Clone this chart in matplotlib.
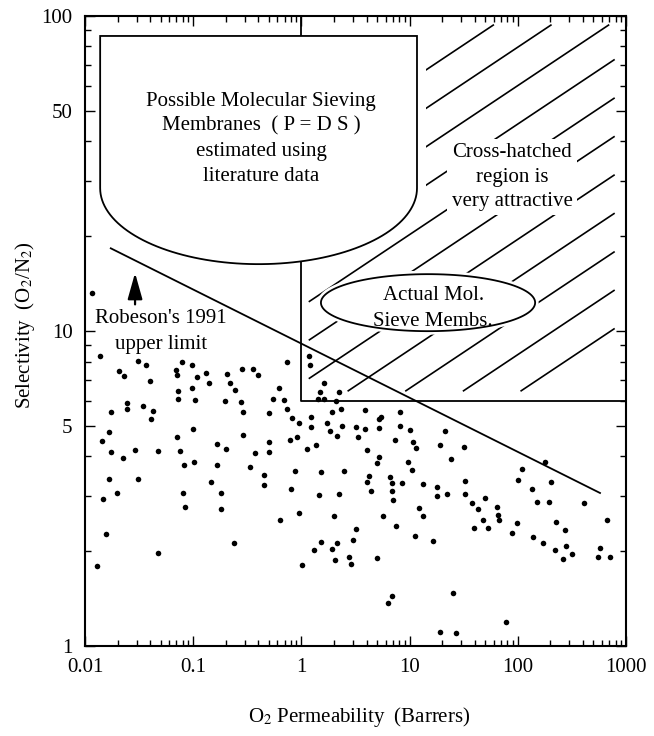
import numpy as np
import matplotlib
matplotlib.use("Agg")
import matplotlib.pyplot as plt
from matplotlib.patches import Polygon

plt.rcParams['font.family'] = ['Liberation Serif', 'DejaVu Serif']
plt.rcParams['mathtext.fontset'] = 'stix'

# O2 permeability (Barrers) of the literature polymers
perm = [0.0115, 0.0138, 0.0206, 0.0229, 0.0309, 0.0364, 0.0399, 0.0173, 0.0243, 0.0243,
        0.0346, 0.0428, 0.0405, 0.0143, 0.0166, 0.0174, 0.0224, 0.0288, 0.0476, 0.0168,
        0.0311, 0.0196, 0.0147, 0.0155, 0.0128, 0.0476, 0.0689, 0.0704, 0.0793, 0.0975,
        0.108, 0.132, 0.140, 0.205, 0.220, 0.242, 0.284, 0.359, 0.400, 0.0728,
        0.0728, 0.0975, 0.104, 0.198, 0.278, 0.287, 0.100, 0.0713, 0.0755, 0.0827,
        0.102, 0.165, 0.200, 0.287, 0.370, 0.335, 0.166, 0.146, 0.0805, 0.181,
        0.0845, 0.181, 0.238, 0.454, 0.454, 0.731, 1.176, 1.19, 1.63, 1.48,
        2.21, 1.43, 1.63, 2.10, 0.625, 0.543, 0.695, 0.499, 0.741, 0.824,
        0.956, 1.23, 1.23, 1.91, 2.32, 1.72, 2.36, 1.85, 2.15, 3.20,
        3.89, 3.87, 3.34, 5.21, 5.41, 5.25, 8.20, 8.20, 10.0, 7.38,
        10.7, 11.5, 19.2, 0.502, 0.502, 0.785, 0.905, 1.12, 1.36, 4.06,
        5.21, 5.03, 9.60, 10.5, 0.873, 1.52, 2.49, 4.19, 4.01, 4.40,
        6.55, 6.92, 8.51, 6.92, 6.98, 13.3, 17.9, 17.9, 0.807, 1.46,
        2.21, 12.1, 13.3, 0.630, 0.950, 2.00, 5.68, 7.44, 3.22, 3.02,
        1.51, 2.15, 1.30, 1.92, 2.03, 2.75, 2.89, 4.97, 1.01, 11.1,
        16.6, 6.88, 6.31, 19.1, 21.2, 24.0, 31.8, 22.0, 32.5, 32.5,
        38.0, 42.6, 49.8, 47.4, 39.1, 53.4, 63.8, 66.0, 67.5, 109,
        99.8, 97.7, 88.4, 180, 135, 151, 194, 203, 227, 271,
        138, 170, 219, 260, 281, 317, 412, 663, 575, 547,
        716, 25.3, 26.7, 77.3]

# O2/N2 selectivity of the same polymers
sel = [13.2, 8.33, 7.48, 7.20, 8.05, 7.78, 6.94, 5.54, 5.92, 5.64,
       5.79, 5.58, 5.26, 4.48, 4.79, 4.12, 3.96, 4.19, 4.15, 3.40,
       3.38, 3.05, 2.92, 2.26, 1.80, 1.98, 7.52, 7.25, 7.99, 7.82,
       7.13, 7.36, 6.85, 7.29, 6.82, 6.51, 7.57, 7.56, 7.25, 6.45,
       6.07, 6.58, 6.03, 6.00, 5.95, 5.52, 4.88, 4.60, 4.17, 3.76,
       3.83, 4.37, 4.21, 4.69, 4.09, 3.69, 3.75, 3.31, 3.05, 3.06,
       2.76, 2.72, 2.12, 3.49, 3.24, 7.96, 8.35, 7.78, 6.85, 6.42,
       6.42, 6.07, 6.08, 6.00, 6.58, 6.08, 6.03, 5.50, 5.64, 5.31,
       5.12, 5.32, 4.97, 5.52, 5.64, 5.10, 4.99, 4.81, 4.64, 4.95,
       5.63, 4.89, 4.62, 5.24, 5.33, 4.91, 5.52, 4.98, 4.86, 4.52,
       4.44, 4.24, 4.35, 4.43, 4.12, 4.51, 4.60, 4.21, 4.35, 4.18,
       3.99, 3.80, 3.83, 3.62, 3.59, 3.58, 3.59, 3.46, 3.32, 3.10,
       3.44, 3.29, 3.30, 3.10, 2.90, 3.26, 3.20, 2.99, 3.16, 3.01,
       3.03, 2.74, 2.59, 2.51, 2.65, 2.59, 2.59, 2.40, 2.35, 2.17,
       2.14, 2.13, 2.01, 2.03, 1.88, 1.91, 1.82, 1.90, 1.81, 2.23,
       2.15, 1.44, 1.37, 1.11, 4.83, 3.92, 4.28, 3.04, 3.35, 3.03,
       2.85, 2.72, 2.95, 2.51, 2.37, 2.37, 2.76, 2.61, 2.51, 3.65,
       3.37, 2.45, 2.29, 3.83, 3.14, 2.87, 2.87, 3.32, 2.47, 2.33,
       2.22, 2.13, 2.01, 1.89, 2.08, 1.96, 2.85, 2.51, 2.04, 1.92,
       1.92, 1.47, 1.10, 1.19]

# Robeson's 1991 upper limit (end points)
robeson_perm = [0.0173, 575]
robeson_sel = [18.3, 3.06]

# "attractive" region (hatched box)
hatch_perm = [1, 1000]
hatch_sel = [6, 100]

# possible molecular sieving membranes (U-shaped region)
sieve_perm = [0.0138, 11.7]
sieve_sel = [86.4, 28.4, 16.3]   # top, end of straight sides, bottom of curve

# actual molecular sieve membranes (ellipse)
actual_perm, actual_sel = 14.8, 12.3
actual_span = [1.98, 0.181]      # width, height in decades

xticks = [0.01, 0.1, 1, 10, 100, 1000]
xticklabels = ['0.01', '0.1', '1', '10', '100', '1000']
yticks = [1, 5, 10, 50, 100]
yticklabels = ['1', '5', '10', '50', '100']

fig = plt.figure(figsize=(6.54, 7.36), dpi=100)
ax = fig.add_axes([0.130, 0.1223, 0.8272, 0.856])
ax.set_xscale('log')
ax.set_yscale('log')
ax.set_xlim(0.01, 1000)
ax.set_ylim(1, 100)

# hatch lines of the attractive region, straight in log-log space
slope = 0.229
lx0, lx1 = np.log10(hatch_perm[0]) + 0.074, np.log10(hatch_perm[1]) - 0.111
ly0, ly1 = np.log10(hatch_sel[0]) + 0.032, np.log10(hatch_sel[1]) - 0.029
for b in np.linspace(2.252, 1.032, 11):
    a0 = max(lx0, 3 + (ly0 - b) / slope)
    a1 = min(lx1, 3 + (ly1 - b) / slope)
    if a1 <= a0:
        continue
    lxs = np.array([a0, a1])
    ax.plot(10 ** lxs, 10 ** (b + slope * (lxs - 3)), color='black', lw=1.2, zorder=1)

ax.plot([hatch_perm[0], hatch_perm[0], hatch_perm[1]],
        [hatch_sel[1], hatch_sel[0], hatch_sel[0]], color='black', lw=1.3, zorder=2)

# U shaped region
lxl, lxr = np.log10(sieve_perm)
lyt, lys, lyb = np.log10(sieve_sel)
t = np.linspace(np.pi, 2 * np.pi, 80)
arc_x = (lxl + lxr) / 2 + (lxr - lxl) / 2 * np.cos(t)
arc_y = lys + (lys - lyb) * np.sin(t)
ux = np.concatenate([[lxl], arc_x, [lxr]])
uy = np.concatenate([[lyt], arc_y, [lyt]])
u_pts = 10 ** np.column_stack([ux, uy])
ax.add_patch(Polygon(u_pts, closed=True, fc='white', ec='white', lw=13, zorder=1.5))
ax.add_patch(Polygon(u_pts, closed=True, fc='white', ec='black', lw=1.3, zorder=2.2))

# ellipse
t = np.linspace(0, 2 * np.pi, 120)
ex = np.log10(actual_perm) + actual_span[0] / 2 * np.cos(t)
ey = np.log10(actual_sel) + actual_span[1] / 2 * np.sin(t)
e_pts = 10 ** np.column_stack([ex, ey])
ax.add_patch(Polygon(e_pts, closed=True, fc='white', ec='white', lw=5, zorder=1.5))
ax.add_patch(Polygon(e_pts, closed=True, fc='white', ec='black', lw=1.3, zorder=2.2))

ax.plot(robeson_perm, robeson_sel, color='black', lw=1.3, zorder=2)
ax.scatter(perm, sel, s=16, color='black', zorder=2.3, linewidths=0)

fs = 15
ax.text(0.423, 40.8, 'Possible Molecular Sieving\nMembranes  ( P = D S )\nestimated using\nliterature data',
        ha='center', va='center', fontsize=fs, linespacing=1.42, zorder=3)
ax.text(88.4, 30.8, 'Cross-hatched\nregion is\nvery attractive',
        ha='center', va='center', fontsize=fs, linespacing=1.4, zorder=3,
        bbox=dict(boxstyle='square,pad=0.2', fc='white', ec='none'))
ax.text(16.5, 11.8, 'Actual Mol.\nSieve Membs.', ha='center', va='center',
        fontsize=fs, linespacing=1.5, zorder=3)
ax.text(0.0504, 9.96, "Robeson's 1991\nupper limit", ha='center', va='center',
        fontsize=fs, linespacing=1.5, zorder=3)
ax.annotate('', xy=(0.029, 15.6), xytext=(0.029, 11.9),
            arrowprops=dict(arrowstyle='-|>,head_length=1.6,head_width=0.45',
                            color='black', lw=1.6), zorder=3)

ax.set_xticks(xticks)
ax.set_xticklabels(xticklabels)
ax.set_yticks(yticks)
ax.set_yticklabels(yticklabels)
ax.tick_params(which='both', direction='in', top=True, right=True, labelsize=15)
ax.tick_params(which='major', length=7, width=1, pad=9)
ax.tick_params(which='minor', length=4, width=1)
for sp in ax.spines.values():
    sp.set_linewidth(1.5)

ax.set_xlabel('O$_2$ Permeability  (Barrers)', fontsize=15)
ax.xaxis.set_label_coords(0.5065, -0.094)
ax.set_ylabel('Selectivity  (O$_2$/N$_2$)', fontsize=15)
ax.yaxis.set_label_coords(-0.089, 0.5095)

fig.savefig('out.png', dpi=100)
